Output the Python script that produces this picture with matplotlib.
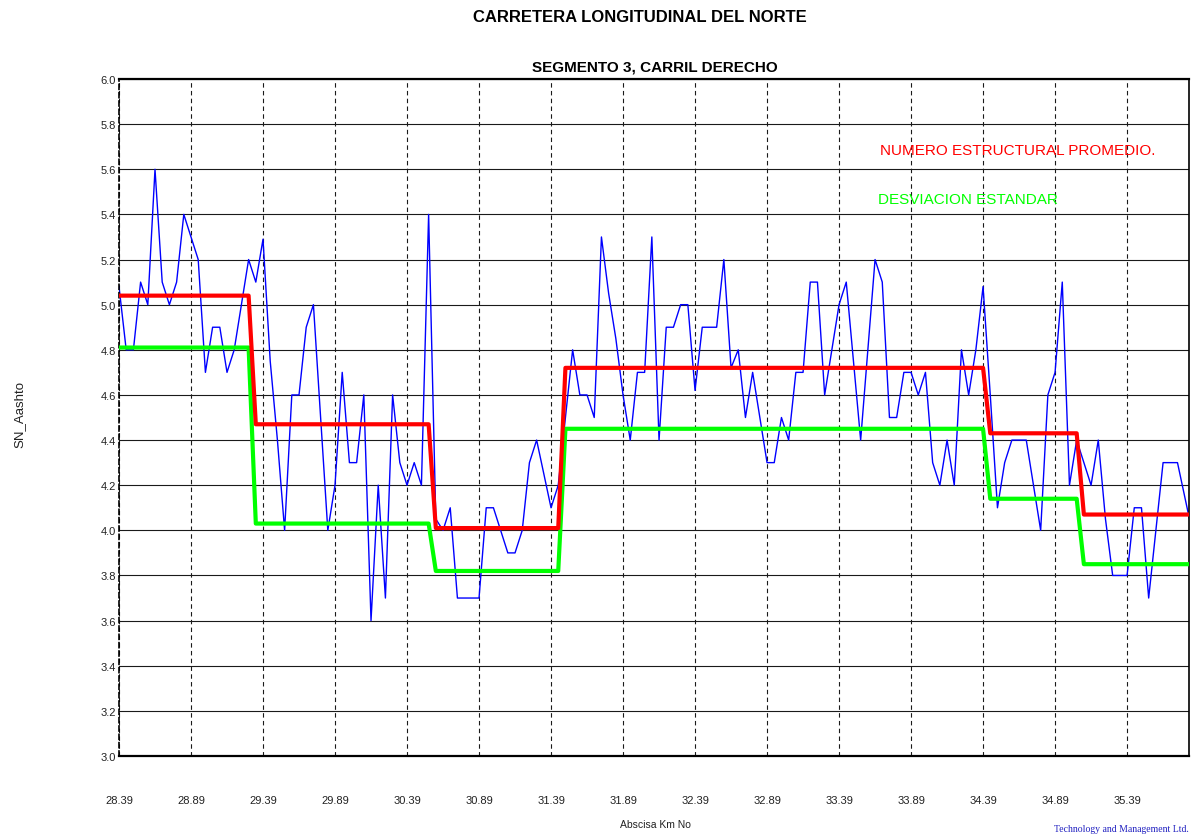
import matplotlib
matplotlib.use("Agg")
import matplotlib.pyplot as plt
import numpy as np

# abscissa of first reading (km) and spacing between readings (km)
km_start = 28.39
km_step = 0.05

# structural number (AASHTO) measured every 50 m
sn_aashto = [
    5.08, 4.8, 4.8, 5.1, 5.0, 5.6, 5.1, 5.0, 5.1, 5.4,
    5.3, 5.2, 4.7, 4.9, 4.9, 4.7, 4.8, 5.0, 5.2, 5.1,
    5.29, 4.75, 4.4, 4.0, 4.6, 4.6, 4.9, 5.0, 4.5, 4.0,
    4.2, 4.7, 4.3, 4.3, 4.6, 3.6, 4.2, 3.7, 4.6, 4.3,
    4.2, 4.3, 4.2, 5.4, 4.05, 4.0, 4.1, 3.7, 3.7, 3.7,
    3.7, 4.1, 4.1, 4.0, 3.9, 3.9, 4.0, 4.3, 4.4, 4.25,
    4.1, 4.2, 4.5, 4.8, 4.6, 4.6, 4.5, 5.3, 5.05, 4.85,
    4.6, 4.4, 4.7, 4.7, 5.3, 4.4, 4.9, 4.9, 5.0, 5.0,
    4.62, 4.9, 4.9, 4.9, 5.2, 4.72, 4.8, 4.5, 4.7, 4.5,
    4.3, 4.3, 4.5, 4.4, 4.7, 4.7, 5.1, 5.1, 4.6, 4.8,
    5.0, 5.1, 4.75, 4.4, 4.8, 5.2, 5.1, 4.5, 4.5, 4.7,
    4.7, 4.6, 4.7, 4.3, 4.2, 4.4, 4.2, 4.8, 4.6, 4.8,
    5.08, 4.6, 4.1, 4.3, 4.4, 4.4, 4.4, 4.2, 4.0, 4.6,
    4.7, 5.1, 4.2, 4.4, 4.3, 4.2, 4.4, 4.05, 3.8, 3.8,
    3.8, 4.1, 4.1, 3.7, 4.0, 4.3, 4.3, 4.3, 4.15, 4.0,
]

# homogeneous sections: number of readings in each, mean SN and std-dev level
section_counts = [19, 25, 18, 59, 13, 16]
section_mean = [5.04, 4.47, 4.01, 4.72, 4.43, 4.07]
section_std = [4.81, 4.03, 3.82, 4.45, 4.14, 3.85]

x_ticks = [28.39, 28.89, 29.39, 29.89, 30.39, 30.89, 31.39, 31.89,
           32.39, 32.89, 33.39, 33.89, 34.39, 34.89, 35.39]
y_ticks = [3.0, 3.2, 3.4, 3.6, 3.8, 4.0, 4.2, 4.4, 4.6, 4.8,
           5.0, 5.2, 5.4, 5.6, 5.8, 6.0]

km = km_start + km_step * np.arange(len(sn_aashto))
mean_line = np.repeat(section_mean, section_counts)
std_line = np.repeat(section_std, section_counts)

plt.rcParams["font.family"] = ["Liberation Sans", "DejaVu Sans"]

fig = plt.figure(figsize=(11.91, 8.37), dpi=100)
ax = fig.add_axes([119 / 1191, 80 / 837, 1070 / 1191, 677 / 837])

ax.set_xlim(28.39, 35.82)
ax.set_ylim(3.0, 6.0)

# grid: solid horizontals, dashed verticals
for y in y_ticks:
    ax.axhline(y, color="#1a1a1a", lw=0.8, zorder=1)
for x in x_ticks:
    ax.axvline(x, color="#1a1a1a", lw=0.8, dashes=(4, 3), zorder=1)

ax.plot(km, sn_aashto, color="#0000ff", lw=1.0, zorder=2)
ax.plot(km, std_line, color="#00ff00", lw=3.0, zorder=3)
ax.plot(km, mean_line, color="#ff0000", lw=3.0, zorder=4)

ax.set_xticks(x_ticks)
ax.set_xticklabels(["%.2f" % v for v in x_ticks])
ax.set_yticks(y_ticks)
ax.set_yticklabels(["%.1f" % v for v in y_ticks])
ax.tick_params(axis="both", length=0, labelsize=8, colors="#222222")
ax.tick_params(axis="x", pad=28)
ax.tick_params(axis="y", pad=2)

ax.spines["top"].set_linewidth(1.6)
ax.spines["bottom"].set_linewidth(1.6)
ax.spines["right"].set_linewidth(1.2)
ax.spines["left"].set_linewidth(1.2)
ax.spines["left"].set_linestyle((0, (3, 2)))

ax.text(33.675, 5.685, "NUMERO ESTRUCTURAL PROMEDIO.", color="#ff0000",
        fontsize=11, va="center", ha="left")
ax.text(33.66, 5.468, "DESVIACION ESTANDAR", color="#00ff00",
        fontsize=11, va="center", ha="left")

fig.text(640 / 1191, 1 - 18 / 837, "CARRETERA LONGITUDINAL DEL NORTE",
         ha="center", va="center", fontsize=12, fontweight="bold")
fig.text(655 / 1191, 1 - 67 / 837, "SEGMENTO 3, CARRIL DERECHO",
         ha="center", va="center", fontsize=11, fontweight="bold")
fig.text(20 / 1191, 1 - 415 / 837, "SN_Aashto", rotation=90,
         ha="center", va="center", fontsize=9.5, color="#222222")
fig.text(655 / 1191, 1 - 825 / 837, "Abscisa Km No",
         ha="center", va="center", fontsize=7.5, color="#222222")
fig.text(1189 / 1191, 1 - 830 / 837, "Technology and Management Ltd.",
         ha="right", va="center", fontsize=7, color="#2020c0",
         family="Liberation Serif")

fig.savefig("out.png", dpi=100)
